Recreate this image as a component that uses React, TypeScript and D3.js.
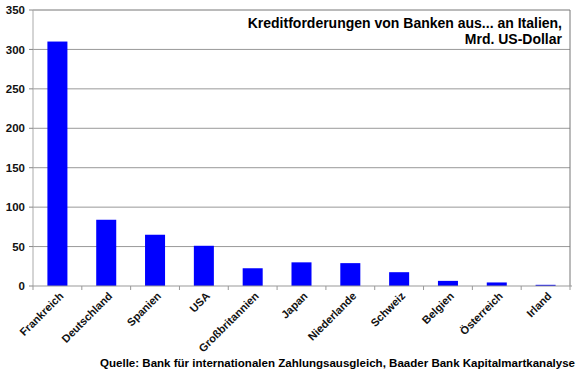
import React, { useEffect, useRef } from "react";
import * as d3 from "d3";

const categories = [
  "Frankreich",
  "Deutschland",
  "Spanien",
  "USA",
  "Großbritannien",
  "Japan",
  "Niederlande",
  "Schweiz",
  "Belgien",
  "Österreich",
  "Irland",
];
const values = [310, 84, 65, 51, 22.5, 30, 29, 17.5, 6.5, 4.5, 1.5];
const yTicks = [0, 50, 100, 150, 200, 250, 300, 350];
const titleLines = ["Kreditforderungen von Banken aus... an Italien,", "Mrd. US-Dollar"];
const source = "Quelle: Bank für internationalen Zahlungsausgleich, Baader Bank Kapitalmartkanalyse";

const FONT = "'Liberation Sans', Arial, sans-serif";

const App = () => {
  const ref = useRef<SVGSVGElement>(null);

  useEffect(() => {
    const svg = d3.select(ref.current);
    svg.selectAll("*").remove();

    const left = 33, right = 570, top = 10, bottom = 286;

    const x = d3.scaleBand().domain(categories).range([left, right]).paddingInner(0.59).paddingOuter(0.295);
    const xBand = d3.scaleBand().domain(categories).range([left, right]);
    const y = d3.scaleLinear().domain([0, 350]).range([bottom, top]);

    // gridlines
    svg.append("g")
      .selectAll("line")
      .data(yTicks.filter((t) => t > 0 && t < 350))
      .join("line")
      .attr("x1", left)
      .attr("x2", right)
      .attr("y1", (d) => y(d))
      .attr("y2", (d) => y(d))
      .attr("stroke", "#999")
      .attr("stroke-width", 1);

    // plot border top / right
    svg.append("path")
      .attr("d", `M${left},${y(350)}H${right}V${bottom}`)
      .attr("fill", "none")
      .attr("stroke", "#777")
      .attr("stroke-width", 1);

    // bars
    svg.append("g")
      .selectAll("rect")
      .data(values)
      .join("rect")
      .attr("x", (_, i) => x(categories[i])!)
      .attr("width", x.bandwidth())
      .attr("y", (d) => y(d))
      .attr("height", (d) => bottom - y(d))
      .attr("fill", "#0000ff");

    // y axis
    const yAxis = svg.append("g").attr("transform", `translate(${left},0)`);
    yAxis.append("line").attr("x1", 0).attr("x2", 0).attr("y1", top).attr("y2", bottom).attr("stroke", "#aaa");
    yAxis.selectAll(".tk")
      .data(yTicks)
      .join("line")
      .attr("x1", -4)
      .attr("x2", 0)
      .attr("y1", (d) => y(d))
      .attr("y2", (d) => y(d))
      .attr("stroke", "#888");
    yAxis.selectAll("text")
      .data(yTicks)
      .join("text")
      .attr("x", -8)
      .attr("y", (d) => y(d))
      .attr("dy", "0.36em")
      .attr("text-anchor", "end")
      .attr("font-family", FONT)
      .attr("font-weight", "bold")
      .attr("font-size", 11.5)
      .attr("fill", "#111")
      .text((d) => d);

    // x axis
    const xAxis = svg.append("g").attr("transform", `translate(0,${bottom})`);
    xAxis.append("line").attr("x1", left).attr("x2", right + 2).attr("y1", 0).attr("y2", 0).attr("stroke", "#999");
    xAxis.selectAll(".tk")
      .data(categories.map((c) => xBand(c)!).concat([right]))
      .join("line")
      .attr("x1", (d) => d)
      .attr("x2", (d) => d)
      .attr("y1", 0)
      .attr("y2", 4)
      .attr("stroke", "#999");
    xAxis.selectAll("text")
      .data(categories)
      .join("text")
      .attr("transform", (d) => `translate(${x(d)! + x.bandwidth() / 2 + 4},8) rotate(-45)`)
      .attr("dy", "0.35em")
      .attr("text-anchor", "end")
      .attr("font-family", FONT)
      .attr("font-weight", "bold")
      .attr("font-size", 11)
      .attr("fill", "#111")
      .text((d) => d);

    // title
    svg.append("g")
      .selectAll("text")
      .data(titleLines)
      .join("text")
      .attr("x", 562)
      .attr("y", (_, i) => 28 + i * 16)
      .attr("text-anchor", "end")
      .attr("font-family", FONT)
      .attr("font-weight", "bold")
      .attr("font-size", 14)
      .attr("fill", "#000")
      .text((d) => d);

    // source
    svg.append("text")
      .attr("x", 100)
      .attr("y", 367)
      .attr("textLength", 475)
      .attr("lengthAdjust", "spacingAndGlyphs")
      .attr("font-family", FONT)
      .attr("font-weight", "bold")
      .attr("font-size", 11)
      .attr("fill", "#000")
      .text(source);
  }, []);

  return (
    <svg
      ref={ref}
      width={580}
      height={375}
      style={{ position: "absolute", left: 0, top: 0, background: "#fff" }}
    />
  );
};

export default App;
